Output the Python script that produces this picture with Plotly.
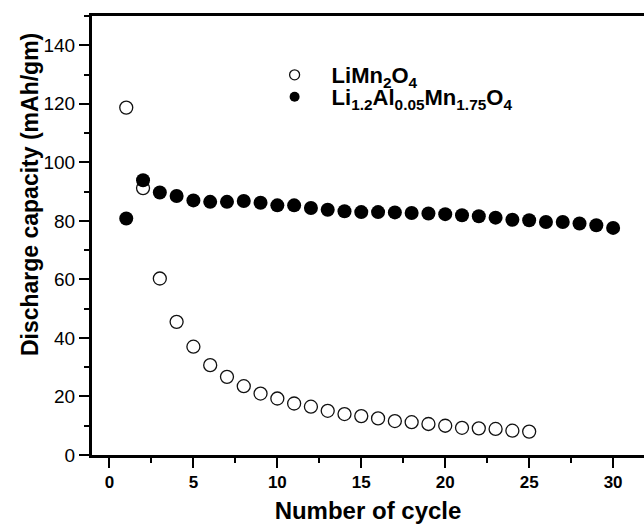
import plotly.graph_objects as go

cycles_limn = list(range(1, 26))
cap_limn = [118.7, 91.2, 60.3, 45.5, 37.0, 30.7, 26.7, 23.5, 21.0, 19.3,
            17.6, 16.5, 15.1, 14.0, 13.3, 12.5, 11.6, 11.2, 10.6, 10.0,
            9.3, 9.1, 8.9, 8.3, 8.0]

cycles_al = list(range(1, 31))
cap_al = [80.8, 93.9, 89.7, 88.5, 87.0, 86.5, 86.5, 86.8, 86.2, 85.3,
          85.3, 84.4, 83.8, 83.3, 83.0, 83.0, 82.9, 82.7, 82.5, 82.3,
          81.9, 81.6, 81.1, 80.4, 80.2, 79.6, 79.6, 79.1, 78.5, 77.6]

name_limn = "LiMn<sub>2</sub>O<sub>4</sub>"
name_al = "Li<sub>1.2</sub>Al<sub>0.05</sub>Mn<sub>1.75</sub>O<sub>4</sub>"

x_ticks = [0, 5, 10, 15, 20, 25, 30]
y_ticks = [0, 20, 40, 60, 80, 100, 120, 140]

x_title = "Number of cycle"
y_title = "Discharge capacity (mAh/gm)"

FONT = "Arial, 'Liberation Sans', sans-serif"

fig = go.Figure()
fig.add_trace(go.Scatter(
    x=cycles_limn, y=cap_limn, mode="markers", showlegend=False,
    marker=dict(symbol="circle-open", size=13, color="#111111",
                line=dict(width=1.3, color="#111111"))))
fig.add_trace(go.Scatter(
    x=cycles_al, y=cap_al, mode="markers", showlegend=False,
    marker=dict(symbol="circle", size=14, color="black")))
# legend entries
fig.add_trace(go.Scatter(
    x=[None], y=[None], mode="markers", name=name_limn, legend="legend",
    marker=dict(symbol="circle-open", size=10, color="#111111",
                line=dict(width=1.3, color="#111111"))))
fig.add_trace(go.Scatter(
    x=[None], y=[None], mode="markers", name=name_al, legend="legend2",
    marker=dict(symbol="circle", size=10, color="black")))

leg_common = dict(xanchor="left", yanchor="middle",
                  bgcolor="rgba(0,0,0,0)", itemwidth=64,
                  font=dict(size=22, weight="bold", family=FONT))

fig.update_layout(
    width=644, height=524,
    margin=dict(l=92, r=0, t=16, b=69, autoexpand=False),
    paper_bgcolor="white", plot_bgcolor="white",
    font=dict(family=FONT, color="black"),
    legend=dict(x=0.30, y=0.8656, **leg_common),
    legend2=dict(x=0.30, y=0.8155, **leg_common),
    xaxis=dict(
        range=[-1.04, 31.84], tickvals=x_ticks,
        ticktext=[str(v) for v in x_ticks],
        showgrid=False, zeroline=False,
        showline=True, linewidth=3, linecolor="black", mirror=True,
        ticks="outside", ticklen=10, tickwidth=2, tickcolor="black",
        tickfont=dict(size=17, weight="bold", family=FONT),
        minor=dict(dtick=2.5, tick0=0, ticks="outside", ticklen=5,
                   tickwidth=2, tickcolor="black", showgrid=False),
        title=dict(text=x_title, standoff=14,
                   font=dict(size=24, weight="bold", family=FONT)),
    ),
    yaxis=dict(
        range=[0, 150], tickvals=y_ticks,
        ticktext=[str(v) for v in y_ticks],
        showgrid=False, zeroline=False,
        showline=True, linewidth=3, linecolor="black", mirror=False,
        ticks="outside", ticklen=10, tickwidth=2, tickcolor="black",
        tickfont=dict(size=19, family=FONT),
        minor=dict(dtick=10, tick0=0, ticks="outside", ticklen=5,
                   tickwidth=2, tickcolor="black", showgrid=False),
    ),
    annotations=[dict(
        text=y_title, textangle=-90, xref="paper", yref="paper",
        x=-0.1123, y=0.592, xanchor="center", yanchor="middle",
        showarrow=False, font=dict(size=23, weight="bold", family=FONT))],
)

fig.write_html("out.html", config={"displayModeBar": False},
               post_script="document.body.style.margin='0';"
                           "document.body.style.overflow='hidden';")
